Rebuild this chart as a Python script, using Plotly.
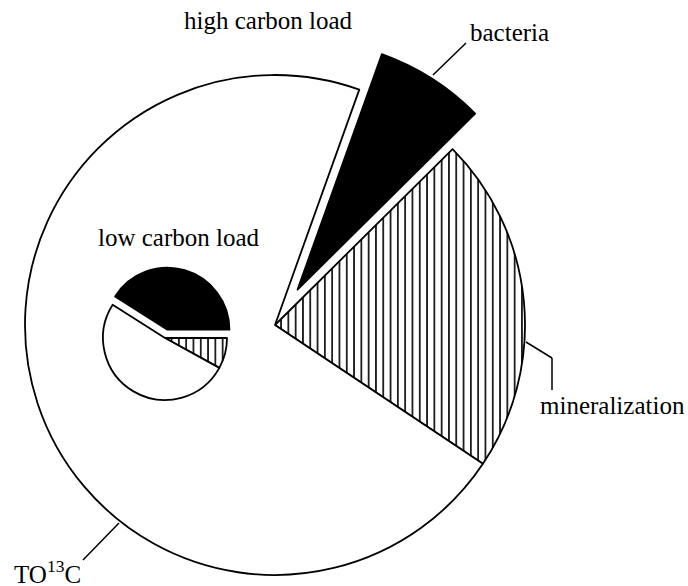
import math
import plotly.graph_objects as go

W, H = 688, 586

# ---- data ----
labels = ["bacteria", "mineralization", "TO<sup>13</sup>C"]
high_values = [7.1, 21.8, 71.1]     # high carbon load (%)
low_values = [41, 8, 51]            # low carbon load (%)
high_start = 19.7                   # first slice start, deg clockwise from 12 o'clock
low_start = -57.6

# ---- geometry (window pixels) ----
BIG_CX, BIG_CY, BIG_R, BIG_SHIFT = 275, 325, 250, 42
SM_CX, SM_CY, SM_R, SM_PULL = 165, 338, 62, 0.14
LW = 1.8
CLEAR = "rgba(0,0,0,0)"
FONT = dict(family="Liberation Serif, Times New Roman, serif", size=25, color="black")


def px(x):
    return x / W


def py(y):
    return 1 - y / H


def domain(cx, cy, half):
    return dict(x=[px(cx - half), px(cx + half)],
                y=[py(cy + half), py(cy - half)])


fig = go.Figure()

# big pie, bacteria slice left empty (it is drawn exploded below)
fig.add_trace(go.Pie(
    labels=labels, values=high_values, sort=False, direction="clockwise",
    rotation=high_start, textinfo="none", domain=domain(BIG_CX, BIG_CY, BIG_R),
    marker=dict(colors=[CLEAR, "white", "white"],
                line=dict(color="black", width=[0, LW, LW]),
                pattern=dict(shape=["", "|", ""], fgcolor="black", bgcolor="white",
                             size=7.3, solidity=0.22)),
    hoverinfo="label+percent", showlegend=False))

# exploded bacteria slice
mid = math.radians(high_start + 360 * high_values[0] / sum(high_values) / 2)
bx = BIG_CX + BIG_SHIFT * math.sin(mid)
by = BIG_CY - BIG_SHIFT * math.cos(mid)
fig.add_trace(go.Pie(
    labels=labels, values=high_values, sort=False, direction="clockwise",
    rotation=high_start, textinfo="none", domain=domain(bx, by, BIG_R),
    marker=dict(colors=["black", CLEAR, CLEAR],
                line=dict(color="black", width=[LW, 0, 0])),
    hoverinfo="skip", showlegend=False))

# small pie
fig.add_trace(go.Pie(
    labels=labels, values=low_values, sort=False, direction="clockwise",
    rotation=low_start, textinfo="none", pull=[SM_PULL, 0, 0],
    domain=domain(SM_CX, SM_CY, SM_R * (1 + SM_PULL)),
    marker=dict(colors=["black", "white", "white"],
                line=dict(color="black", width=LW),
                pattern=dict(shape=["", "|", ""], fgcolor="black", bgcolor="white",
                             size=7.3, solidity=0.22)),
    hoverinfo="label+percent", showlegend=False))

annotations = [
    dict(text="high carbon load", x=px(182), y=py(21), xanchor="left", yanchor="middle"),
    dict(text="bacteria", x=px(468), y=py(32), xanchor="left", yanchor="middle"),
    dict(text="low carbon load", x=px(96), y=py(237), xanchor="left", yanchor="middle"),
    dict(text="mineralization", x=px(538), y=py(405), xanchor="left", yanchor="middle"),
    dict(text="TO<sup>13</sup>C", x=px(12), y=py(572), xanchor="left", yanchor="middle"),
]
for a in annotations:
    a.update(xref="paper", yref="paper", showarrow=False, font=FONT)

leaders = [
    [(433, 75), (466, 43)],
    [(526, 342), (552, 358), (552, 390)],
    [(119, 523), (83, 560)],
]
shapes = []
for pts in leaders:
    for (x0, y0), (x1, y1) in zip(pts[:-1], pts[1:]):
        shapes.append(dict(type="line", xref="paper", yref="paper",
                           x0=px(x0), y0=py(y0), x1=px(x1), y1=py(y1),
                           line=dict(color="black", width=1.5)))

fig.update_layout(width=W, height=H, margin=dict(l=0, r=0, t=0, b=0),
                  paper_bgcolor="white", plot_bgcolor="white",
                  annotations=annotations, shapes=shapes, showlegend=False)

fig.write_html("out.html",
               config={"displayModeBar": False},
               post_script="document.body.style.margin='0';"
                           "document.body.style.overflow='hidden';")
